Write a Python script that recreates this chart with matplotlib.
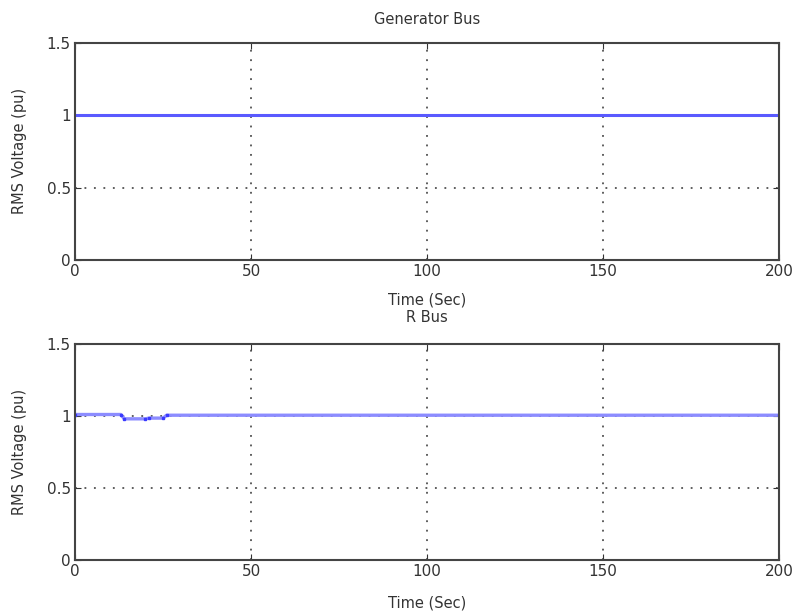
import numpy as np, matplotlib; matplotlib.use("Agg"); import matplotlib.pyplot as plt
plt.rcParams['font.family'] = ['DejaVu Sans']
# generator bus: flat 1 pu over the whole run
t_gen = [0, 200]
v_gen = [1.0, 1.0]
# R bus: small sag shortly after start, then recovers
t_r = [0, 13, 14, 20, 21, 25, 26, 200]
v_r = [1.01, 1.01, 0.98, 0.98, 0.985, 0.985, 1.005, 1.005]
xticks = [0, 50, 100, 150, 200]
yticks = [0, 0.5, 1, 1.5]

W, H = 794, 615
fig = plt.figure(figsize=(W/100, H/100), dpi=100)
ax1 = fig.add_axes([0.0945, 0.577, 0.887, 0.353])
ax2 = fig.add_axes([0.0945, 0.089, 0.887, 0.352])
ax1.plot(t_gen, v_gen, color="#5a5aff", lw=2.2)
ax2.plot(t_r, v_r, color="#8c8cff", lw=2.4)
ax2.plot(t_r, v_r, color="#3a3aff", lw=0, marker="s", ms=1.6, markevery=0.0075)
txt = dict(fontsize=10.5, color="#333333", ha="center", va="center")
# (axes, title, title y px, xlabel y px, ylabel y px)
for ax, title, ty, xy, yy in [(ax1, "Generator Bus", 20, 300, 151), (ax2, "R Bus", 317, 603, 452)]:
    ax.set_xlim(0, 200); ax.set_ylim(0, 1.5)
    ax.set_xticks(xticks); ax.set_yticks(yticks)
    ax.set_xticklabels([str(v) for v in xticks]); ax.set_yticklabels(["0", "0.5", "1", "1.5"])
    ax.grid(True, color="#333333", ls=(0, (1.2, 5)), lw=1.1)
    ax.tick_params(labelsize=11, direction="in", length=4, pad=3, colors="#333333",
                   labelcolor="#333333", top=True, right=True)
    for s in ax.spines.values(): s.set_linewidth(1.5); s.set_color("#444444")
    fig.text(0.5*(0.0945*2+0.887), 1-ty/H, title, **txt)
    fig.text(0.5*(0.0945*2+0.887), 1-xy/H, "Time (Sec)", **txt)
    fig.text(20/W, 1-yy/H, "RMS Voltage (pu)", rotation=90, **txt)
plt.savefig("out.png", dpi=100)
